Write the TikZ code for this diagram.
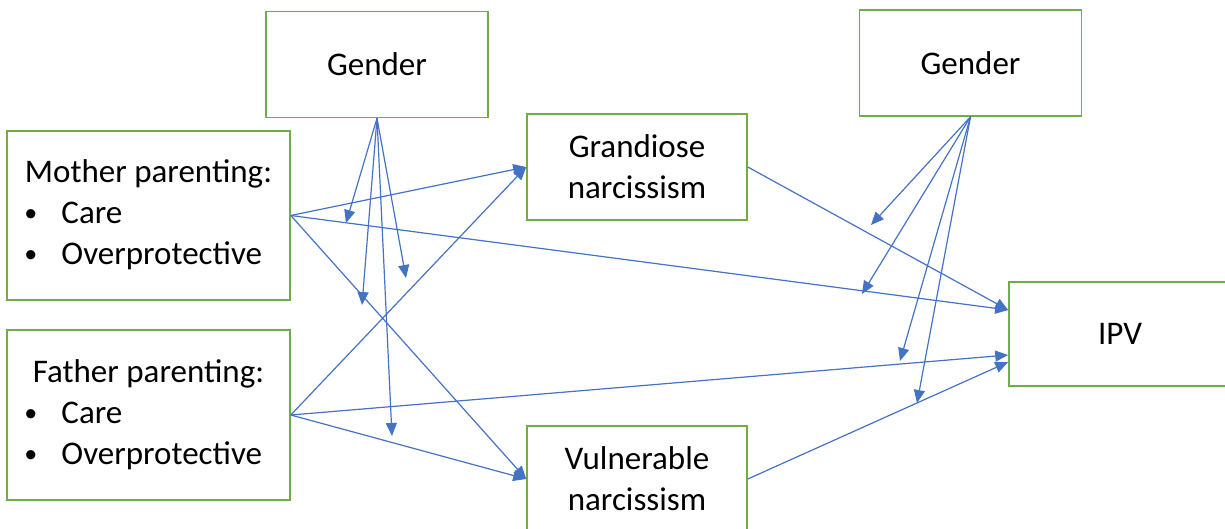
\documentclass[tikz,border=0pt]{standalone}
\usepackage{fontspec}
\setmainfont{Carlito}
\usetikzlibrary{arrows.meta}

\definecolor{boxgreen}{RGB}{112,173,71}
\definecolor{pathblue}{RGB}{68,114,196}

\tikzset{
  varbox/.style={draw=boxgreen, line width=0.8pt, inner sep=0pt,
    minimum width=111pt, minimum height=53pt, align=center,
    font=\fontsize{16.5}{20.5}\selectfont},
  path arrow/.style={draw=pathblue, line width=0.6pt,
    -{Triangle[length=6.5pt,width=5.5pt]}},
}

\newcommand{\smallbullet}{\raisebox{1pt}{\fontsize{13}{13}\selectfont\textbullet}}
\newcommand{\parenting}[1]{%
  \begin{tabular}{@{}p{18.5pt}@{}p{105.5pt}@{}}
  \multicolumn{2}{@{}c@{}}{#1 parenting:}\\
  \smallbullet & Care\\
  \smallbullet & Overprotective
  \end{tabular}}

\begin{document}
\begin{tikzpicture}[x=0.5pt,y=-0.5pt]
\useasboundingbox (0,0) rectangle (1225,529);

% boxes
\node[varbox] (gender1) at (377,64.5) {Gender};
\node[varbox] (gender2) at (970.5,63) {Gender};
\node[varbox, minimum width=141.5pt, minimum height=84.5pt] (mother) at (148.5,215.5) {\parenting{Mother}};
\node[varbox, minimum width=141.5pt, minimum height=85pt] (father) at (148.5,415) {\parenting{Father}};
\node[varbox, minimum width=110pt] (grand) at (637,167) {Grandiose\\narcissism};
\node[varbox, minimum width=110pt] (vuln) at (637,479) {Vulnerable\\narcissism};
\node[varbox, minimum height=52pt] (ipv) at (1120,334) {IPV};

% main paths
\draw[path arrow] (mother.east) -- (grand.west);
\draw[path arrow] (mother.east) -- (vuln.west);
\draw[path arrow] (mother.east) -- ([yshift=12pt]ipv.west);
\draw[path arrow] (father.east) -- (grand.west);
\draw[path arrow] (father.east) -- (vuln.west);
\draw[path arrow] (father.east) -- ([yshift=-10.5pt]ipv.west);
\draw[path arrow] (grand.east) -- ([yshift=12pt]ipv.west);
\draw[path arrow] (vuln.east) -- ([yshift=-14pt]ipv.west);

% moderation by gender
\coordinate (m1) at (346,223);
\coordinate (m2) at (362,305);
\coordinate (m3) at (406,278);
\coordinate (m4) at (392,436);
\coordinate (m5) at (871,225);
\coordinate (m6) at (862,294);
\coordinate (m7) at (900,361);
\coordinate (m8) at (917,403);

\foreach \m in {m1,m2,m3,m4}
  \draw[path arrow] (gender1.south) -- (\m);
\foreach \m in {m5,m6,m7,m8}
  \draw[path arrow] (gender2.south) -- (\m);
\end{tikzpicture}
\end{document}
